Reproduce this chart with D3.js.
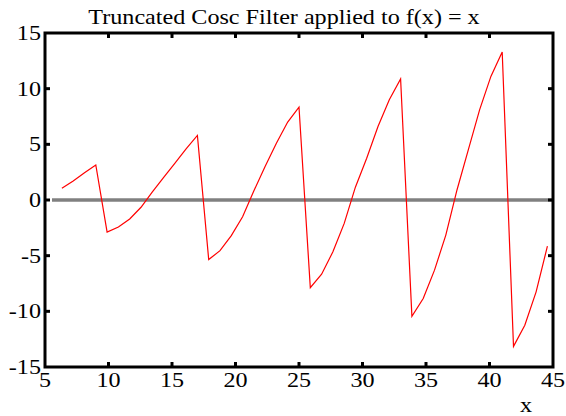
<!DOCTYPE html>
<html>
<head>
<meta charset="utf-8">
<script src="https://cdn.jsdelivr.net/npm/d3@7"></script>
<style>
  html, body { margin: 0; padding: 0; background: #fff; }
  svg { display: block; }
</style>
</head>
<body>
<svg id="chart" width="566" height="416"></svg>
<script>

const xValues = [
  6.33, 7.22, 8.11, 9.00,
  9.89, 10.78, 11.67, 12.56, 13.44, 14.33, 15.22, 16.11, 17.00,
  17.89, 18.78, 19.67, 20.56, 21.44, 22.33, 23.22, 24.11, 25.00,
  25.89, 26.78, 27.67, 28.56, 29.44, 30.33, 31.22, 32.11, 33.00,
  33.89, 34.78, 35.67, 36.56, 37.44, 38.33, 39.22, 40.11, 41.00,
  41.89, 42.78, 43.67, 44.56,
];
const yValues = [
  1.05, 1.7, 2.45, 3.15,
  -2.88, -2.43, -1.7, -0.65, 0.7, 2.0, 3.3, 4.6, 5.8,
  -5.35, -4.55, -3.2, -1.5, 0.8, 3.0, 5.1, 7.0, 8.35,
  -7.87, -6.67, -4.65, -2.1, 1.15, 3.75, 6.6, 9.0, 10.87,
  -10.45, -8.85, -6.3, -3.15, 0.9, 4.5, 8.1, 11.1, 13.3,
  -13.15, -11.25, -8.25, -4.15,
];
const xTicks = [5, 10, 15, 20, 25, 30, 35, 40, 45];
const yTicks = [-15, -10, -5, 0, 5, 10, 15];
const zeroLineExtent = [5.55, 45];

const title = "Truncated Cosc Filter applied to f(x) = x";
const xLabel = "x";

const W = 566, H = 416;
const LEFT = 45, RIGHT = 553, TOP = 33, BOTTOM = 367;
const FONT = "21px 'Liberation Serif','Times New Roman',serif";
const STRETCH = 1.15; // the original's lettering is a bit wider than Times

const svg = d3.select("#chart");
const x = d3.scaleLinear().domain([5, 45]).range([LEFT, RIGHT]);
const y = d3.scaleLinear().domain([-15, 15]).range([BOTTOM, TOP]);

const points = xValues.map((v, i) => ({ x: v, y: yValues[i] }));

const label = (sel, px, py, anchor) => sel
  .attr("transform", `translate(${px},${py}) scale(${STRETCH},1)`)
  .attr("text-anchor", anchor)
  .style("font", FONT).style("fill", "#000");

// zero line
svg.append("line")
  .attr("x1", x(zeroLineExtent[0])).attr("x2", x(zeroLineExtent[1]))
  .attr("y1", y(0)).attr("y2", y(0))
  .attr("stroke", "#808080").attr("stroke-width", 3.5);

// data
svg.append("path").datum(points)
  .attr("fill", "none").attr("stroke", "#ff0000").attr("stroke-width", 1.2)
  .attr("d", d3.line().x((d) => x(d.x)).y((d) => y(d.y)));

// inward ticks on all four sides
const TICK = 5;
const inner = (t, lo, hi) => t > lo && t < hi;
const tg = svg.append("g").attr("stroke", "#000").attr("stroke-width", 3);
xTicks.filter((t) => inner(t, 5, 45)).forEach((t) => {
  tg.append("line").attr("x1", x(t)).attr("x2", x(t)).attr("y1", BOTTOM).attr("y2", BOTTOM - TICK);
  tg.append("line").attr("x1", x(t)).attr("x2", x(t)).attr("y1", TOP).attr("y2", TOP + TICK);
});
yTicks.filter((t) => inner(t, -15, 15)).forEach((t) => {
  tg.append("line").attr("x1", LEFT).attr("x2", LEFT + TICK).attr("y1", y(t)).attr("y2", y(t));
  tg.append("line").attr("x1", RIGHT).attr("x2", RIGHT - TICK).attr("y1", y(t)).attr("y2", y(t));
});

// frame
svg.append("rect")
  .attr("x", LEFT).attr("y", TOP).attr("width", RIGHT - LEFT).attr("height", BOTTOM - TOP)
  .attr("fill", "none").attr("stroke", "#000").attr("stroke-width", 3);

// tick labels
svg.append("g").selectAll("text").data(xTicks).join("text")
  .call((s) => s.each(function (d) { label(d3.select(this), x(d), BOTTOM + 20, "middle"); }))
  .text((d) => d);
svg.append("g").selectAll("text").data(yTicks).join("text")
  .call((s) => s.each(function (d) { label(d3.select(this), LEFT - 4, y(d) + 7, "end"); }))
  .text((d) => d);

// title and axis label
svg.append("text").call(label, (LEFT + RIGHT) / 2 - 15, 24, "middle").text(title);
svg.append("text").call(label, 526, 412, "middle").text(xLabel);
</script>
</body>
</html>
